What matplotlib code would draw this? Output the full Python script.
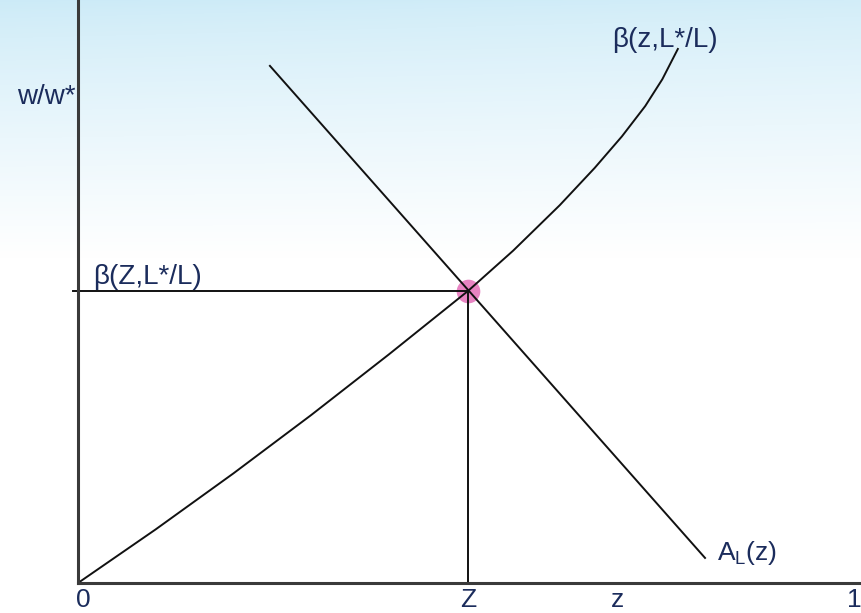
import numpy as np
import matplotlib.pyplot as plt

# curve readings (z, w/w*)
beta_z = [0.0, 0.1, 0.2, 0.3, 0.4, 0.502, 0.56, 0.62, 0.665, 0.70, 0.73, 0.752, 0.772]
beta_w = [0.0, 0.092, 0.188, 0.288, 0.392, 0.501, 0.570, 0.648, 0.712, 0.766, 0.818, 0.864, 0.916]

al_z = [0.247, 0.807]
al_w = [0.887, 0.043]

eq_z = 0.502
eq_w = 0.501

txt_col = '#1b2c5c'
plt.rcParams['font.family'] = ['Liberation Sans', 'DejaVu Sans']

fig = plt.figure(figsize=(8.61, 6.13), dpi=100)

# sky-like background gradient
bg = fig.add_axes([0, 0, 1, 1], zorder=0)
rows = np.linspace(0, 1, 613)[:, None]
fade = np.clip(rows / 0.42, 0, 1) ** 0.8
cols = np.linspace(0, 1, 861)[None, :]
top = np.array([0.80, 0.92, 0.97])
img = np.ones((613, 861, 3))
for c in range(3):
    img[:, :, c] = top[c] + (1 - top[c]) * (fade + 0.12 * cols * (1 - fade))
img = np.clip(img, 0, 1)
bg.imshow(img, aspect='auto', extent=[0, 1, 0, 1], origin='upper')
bg.axis('off')

ax = fig.add_axes([78 / 861, 30 / 613, 783 / 861, 583 / 613], zorder=1)
ax.patch.set_alpha(0)
ax.set_xlim(0, 783 / 777)
ax.set_ylim(0, 1)
for s in ['top', 'right']:
    ax.spines[s].set_visible(False)
for s in ['left', 'bottom']:
    ax.spines[s].set_linewidth(2.2)
    ax.spines[s].set_color('#3a3a3a')
ax.set_xticks([])
ax.set_yticks([])

ax.plot(beta_z, beta_w, color='#111111', lw=1.4)
ax.plot(al_z, al_w, color='#111111', lw=1.4)
ax.plot([-0.006, eq_z], [eq_w, eq_w], color='#111111', lw=1.4, clip_on=False)
ax.plot([eq_z, eq_z], [0, eq_w], color='#111111', lw=1.4)
ax.scatter([eq_z], [eq_w], s=290, color='#e36fb8', alpha=0.85, zorder=1, linewidths=0)

fs = 20
ax.text((46 - 78) / 777, (583 - 97) / 583, 'w/w*', color=txt_col, fontsize=fs, ha='center', va='center', clip_on=False)
ax.text((612 - 78) / 777, (583 - 40) / 583, 'β(z,L*/L)', color=txt_col, fontsize=fs, ha='left', va='center')
ax.text((93 - 78) / 777, eq_w + 0.002, 'β(Z,L*/L)', color=txt_col, fontsize=fs, ha='left', va='bottom')
ax.text((717 - 78) / 777, (583 - 553) / 583, r'A$_\mathregular{L}$(z)', color=txt_col, fontsize=19, ha='left', va='center')

# bottom labels, kept inside the canvas
yb = (583 - 612) / 583
ax.text(0.007, yb, '0', color=txt_col, fontsize=19, ha='center', va='bottom', clip_on=False)
ax.text(eq_z, yb, 'Z', color=txt_col, fontsize=19, ha='center', va='bottom', clip_on=False)
ax.text((617 - 78) / 777, yb, 'z', color=txt_col, fontsize=19, ha='center', va='bottom', clip_on=False)
ax.text(0.999, yb, '1', color=txt_col, fontsize=19, ha='center', va='bottom', clip_on=False)

fig.savefig('out.png', dpi=100)
